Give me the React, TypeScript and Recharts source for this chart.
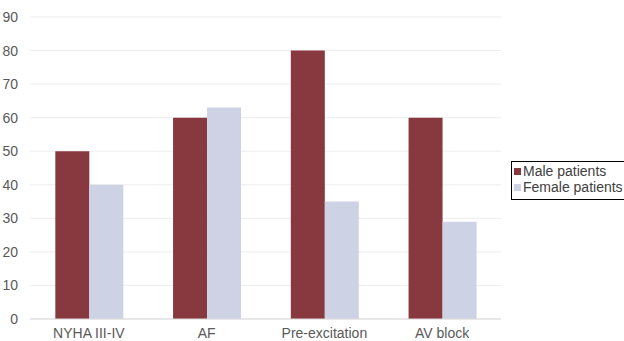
import React from 'react';
import { BarChart, Bar, XAxis, YAxis, CartesianGrid } from 'recharts';

const categories = ['NYHA III-IV', 'AF', 'Pre-excitation', 'AV block'];
const malePatients = [50, 60, 80, 60];
const femalePatients = [40, 63, 35, 29];
const yTicks = [0, 10, 20, 30, 40, 50, 60, 70, 80, 90];

const series = [
  { key: 'male', name: 'Male patients', color: '#88393F' },
  { key: 'female', name: 'Female patients', color: '#CDD2E5' },
];

const data = categories.map((name, i) => ({
  name,
  male: malePatients[i],
  female: femalePatients[i],
}));

const font = '"Liberation Sans", Arial, sans-serif';

export default function App() {
  return (
    <div style={{ position: 'absolute', left: 0, top: 0, width: 624, height: 341, background: '#fff', fontFamily: font }}>
      <BarChart
        width={624}
        height={341}
        data={data}
        margin={{ top: 17, right: 123, bottom: 0, left: 0 }}
        barCategoryGap="21.5%"
        barGap={0}
      >
        <CartesianGrid vertical={false} stroke="#EDEDED" />
        <XAxis
          dataKey="name"
          height={22}
          tickLine={false}
          axisLine={{ stroke: '#D9D9D9' }}
          tick={{ fill: '#595959', fontSize: 14, fontFamily: font }}
          tickMargin={3}
        />
        <YAxis
          width={30}
          domain={[0, 90]}
          ticks={yTicks}
          axisLine={false}
          tickLine={false}
          tickMargin={6}
          tick={{ fill: '#595959', fontSize: 14, fontFamily: font }}
        />
        {series.map(s => (
          <Bar key={s.key} dataKey={s.key} name={s.name} fill={s.color} isAnimationActive={false} />
        ))}
      </BarChart>

      {/* legend box on the right */}
      <div
        style={{
          position: 'absolute',
          left: 511,
          top: 161,
          width: 110,
          height: 36,
          border: '1px solid #000',
          padding: '1px 0 0 2px',
          fontSize: 14,
          color: '#404040',
          lineHeight: '16px',
        }}
      >
        {series.map(s => (
          <div key={s.key} style={{ display: 'flex', alignItems: 'center', whiteSpace: 'nowrap' }}>
            <span style={{ width: 7, height: 7, background: s.color, marginRight: 2, display: 'inline-block' }} />
            <span>{s.name}</span>
          </div>
        ))}
      </div>
    </div>
  );
}
